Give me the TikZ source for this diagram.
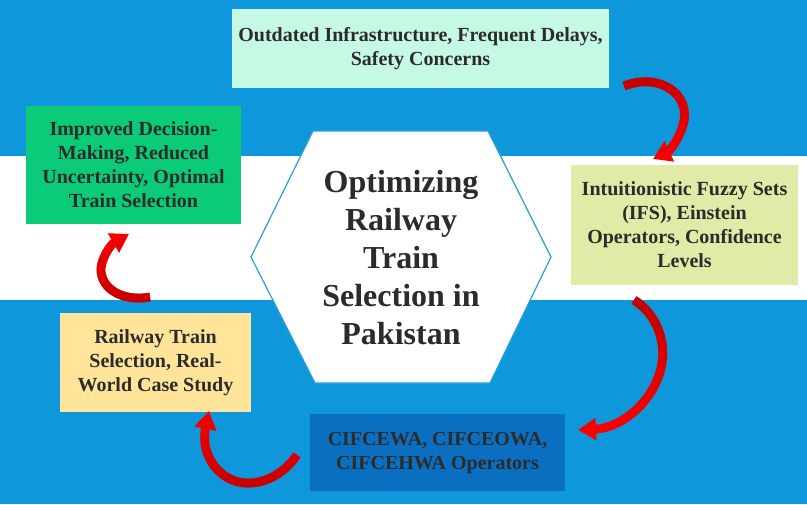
\documentclass[tikz,border=0pt]{standalone}
\usepackage{fontspec}
\setmainfont{Liberation Serif}
\usetikzlibrary{arrows.meta,fadings}
\definecolor{bgblue}{HTML}{0E98DB}
\definecolor{hexline}{HTML}{2A9FDA}
\definecolor{txt}{HTML}{2B2B2B}
\definecolor{ctop}{HTML}{C6F9E3}
\definecolor{cright}{HTML}{DFEBA7}
\definecolor{cbottom}{HTML}{0A6FC0}
\definecolor{cleftb}{HTML}{FFE49A}
\definecolor{clefttop}{HTML}{0BCB78}
\definecolor{redbright}{HTML}{FF0000}
\definecolor{reddark}{HTML}{BF0000}
\tikzset{
  box/.style={rectangle, inner sep=0pt, text=txt, align=center,
    font=\fontsize{15}{18}\selectfont\bfseries},
  arr/.style={line width=6.6pt, -{Triangle[width=16pt,length=13.5pt]}},
}
\begin{document}
\begin{tikzpicture}[x=0.75pt,y=-0.75pt]
\useasboundingbox (0,0) rectangle (807,504);
\fill[bgblue] (0,0) rectangle (807,504);
\fill[white] (0,156) rectangle (807,300);

% hexagon
\draw[hexline, line width=0.9pt, fill=white]
  (313,131) -- (488,131) -- (551,257) -- (490,383) -- (315,383) -- (251,257) -- cycle;
\node[text=txt, align=center, font=\fontsize{24}{28.5}\selectfont\bfseries] (hub) at (401,258)
  {Optimizing\\Railway\\Train\\Selection in\\Pakistan};

% boxes
\node[box, fill=ctop, minimum width=282.75pt, minimum height=59.25pt] (top) at (420.5,48.5)
  {Outdated Infrastructure, Frequent Delays,\\Safety Concerns};
\node[box, fill=cright, minimum width=170.25pt, minimum height=90pt] (right) at (684.5,225)
  {Intuitionistic Fuzzy Sets\\(IFS), Einstein\\Operators, Confidence\\Levels};
\node[box, fill=cbottom, minimum width=191.25pt, minimum height=57.75pt] (bottom) at (437.5,452.5)
  {CIFCEWA, CIFCEOWA,\\CIFCEHWA Operators};
\node[box, fill=cleftb, minimum width=143.25pt, minimum height=74.25pt] (leftb) at (155.5,362.5)
  {Railway Train\\Selection, Real-\\World Case Study};
\node[box, fill=clefttop, minimum width=161.25pt, minimum height=88.5pt] (lefttop) at (133.5,165)
  {Improved Decision-\\Making, Reduced\\Uncertainty, Optimal\\Train Selection};

% arrow end points
\coordinate (a1s) at (624,86);  \coordinate (a1m) at (683,125); \coordinate (a1e) at (653,159);
\coordinate (a2s) at (634,300); \coordinate (a2m) at (660,372); \coordinate (a2e) at (578,430);
\coordinate (a3s) at (297,455); \coordinate (a3m) at (228,478); \coordinate (a3e) at (209,411);
\coordinate (a4s) at (150,297); \coordinate (a4m) at (101,268); \coordinate (a4e) at (129,234);

% arrow 1
\draw[arr, redbright] (a1s) .. controls (660,72) and (692,95) .. (a1m) .. controls (678,142) and (668,152) .. (a1e);
\draw[arr, reddark, path fading=south] (a1s) .. controls (660,72) and (692,95) .. (a1m) .. controls (678,142) and (668,152) .. (a1e);
% arrow 2
\draw[arr, redbright] (a2s) .. controls (658,315) and (668,345) .. (a2m) .. controls (650,405) and (620,428) .. (a2e);
\draw[arr, reddark, path fading=south] (a2s) .. controls (658,315) and (668,345) .. (a2m) .. controls (650,405) and (620,428) .. (a2e);
% arrow 3
\draw[arr, redbright] (a3s) .. controls (280,480) and (250,490) .. (a3m) .. controls (208,466) and (202,445) .. (a3e);
\draw[arr, reddark, path fading=north] (a3s) .. controls (280,480) and (250,490) .. (a3m) .. controls (208,466) and (202,445) .. (a3e);
% arrow 4
\draw[arr, redbright] (a4s) .. controls (125,302) and (100,290) .. (a4m) .. controls (102,258) and (110,245) .. (a4e);
\draw[arr, reddark, path fading=north] (a4s) .. controls (125,302) and (100,290) .. (a4m) .. controls (102,258) and (110,245) .. (a4e);
\end{tikzpicture}
\end{document}
